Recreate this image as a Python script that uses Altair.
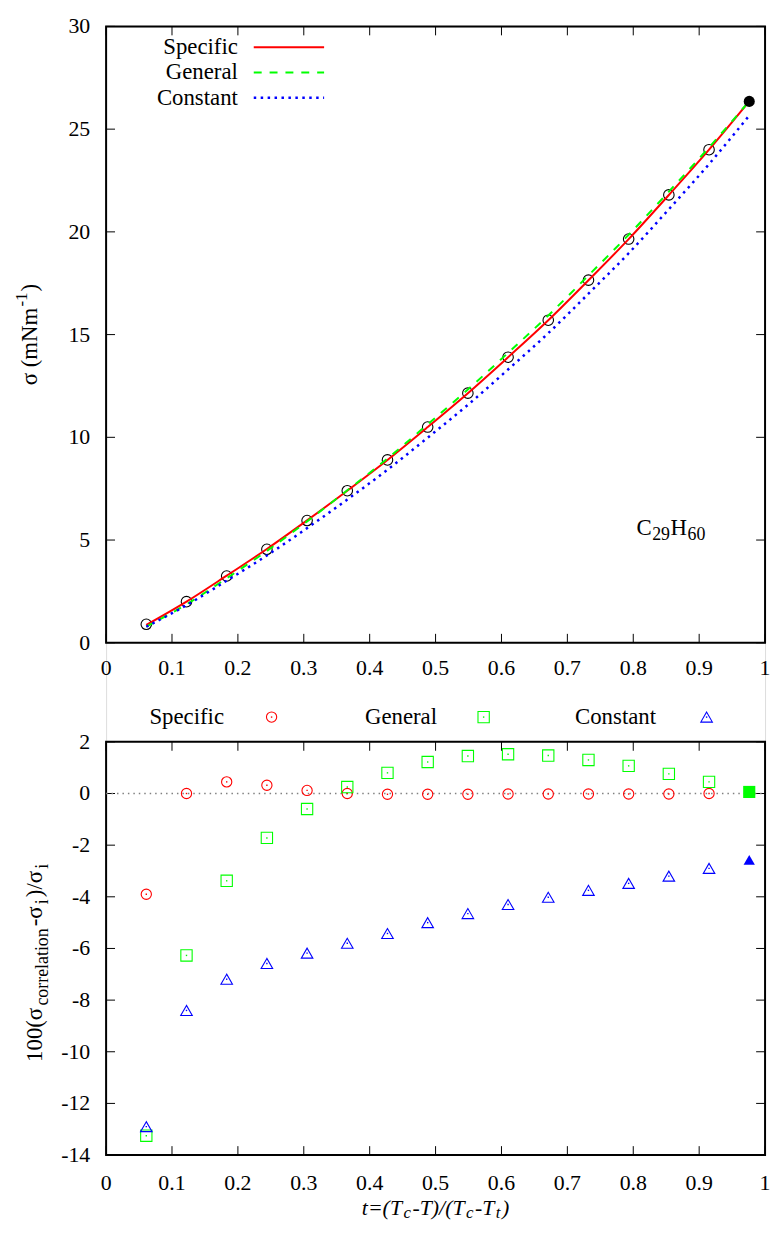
import altair as alt
import pandas as pd

FONT = "Liberation Serif"
RED, GREEN, BLUE = "#ff0000", "#00ff00", "#0000ff"

# ---------------- data ----------------
t_exp = [0.061, 0.122, 0.183, 0.244, 0.305, 0.366, 0.427, 0.488, 0.549, 0.610,
         0.671, 0.732, 0.793, 0.854, 0.915]
t_last = [0.976]
sigma_exp = [0.9, 2.0, 3.25, 4.55, 5.95, 7.4, 8.9, 10.5, 12.15, 13.9,
             15.7, 17.65, 19.65, 21.8, 24.0]
sigma_last = [26.35]

t_line = [0.061, 0.122, 0.183, 0.244, 0.305, 0.366, 0.427, 0.488, 0.549, 0.610,
          0.671, 0.732, 0.793, 0.854, 0.915, 0.976]
line_specific = [0.865, 2.0, 3.265, 4.565, 5.957, 7.4, 8.897, 10.497, 12.146, 13.897,
                 15.697, 17.646, 19.646, 21.796, 24.0, 26.35]
line_general = [0.78, 1.875, 3.14, 4.47, 5.91, 7.42, 8.97, 10.63, 12.33, 14.11,
                15.93, 17.88, 19.86, 21.96, 24.11, 26.36]
line_constant = [0.78, 1.83, 3.02, 4.25, 5.58, 6.97, 8.42, 9.98, 11.58, 13.30,
                 15.07, 16.99, 18.96, 21.10, 23.30, 25.66]

dev_specific = [-3.9, 0.0, 0.45, 0.32, 0.12, 0.0, -0.03, -0.03, -0.03, -0.02,
                -0.02, -0.02, -0.02, -0.02, 0.0]
dev_general = [-13.25, -6.27, -3.38, -1.72, -0.6, 0.25, 0.8, 1.22, 1.45, 1.52,
               1.47, 1.3, 1.07, 0.76, 0.45]
dev_constant = [-12.9, -8.4, -7.19, -6.58, -6.18, -5.8, -5.42, -5.0, -4.65, -4.3,
                -4.02, -3.75, -3.48, -3.2, -2.9]
dev_general_last = [0.06]
dev_constant_last = [-2.57]

x_ticks = [0, 0.1, 0.2, 0.3, 0.4, 0.5, 0.6, 0.7, 0.8, 0.9, 1]
top_y_ticks = [0, 5, 10, 15, 20, 25, 30]
bot_y_ticks = [-14, -12, -10, -8, -6, -4, -2, 0, 2]

# ---------------- layout constants ----------------
W, H1, GAP, H2 = 665, 622, 100, 417
B0 = H1 + GAP          # top of the lower panel
HT = B0 + H2           # bottom of the lower panel
TICK = 9
LABEL = 22
TXT = 23
SUB = 18

one = pd.DataFrame({"k": [0]})
df_top = pd.DataFrame({"t": t_exp, "s": sigma_exp})
df_top_last = pd.DataFrame({"t": t_last, "s": sigma_last})
df_lines = pd.DataFrame({"t": t_line, "sp": line_specific, "ge": line_general, "co": line_constant})
df_bot = pd.DataFrame({"t": t_exp, "sp": dev_specific, "ge": dev_general, "co": dev_constant})
df_bot_last = pd.DataFrame({"t": t_last, "ge": dev_general_last, "co": dev_constant_last})
df_xt = pd.DataFrame({"v": x_ticks, "lab": [f"{v:g}" for v in x_ticks]})
df_yt_top = pd.DataFrame({"v": top_y_ticks, "lab": [f"{v:g}" for v in top_y_ticks]})
df_yt_bot = pd.DataFrame({"v": bot_y_ticks, "lab": [f"{v:g}" for v in bot_y_ticks]})
df_zero = pd.DataFrame({"v": [0]})

xscale = alt.Scale(domain=[0, 1], nice=False, zero=False)
ys_top = alt.Scale(domain=[0, 30], range=[H1, 0], nice=False, zero=False)
ys_bot = alt.Scale(domain=[-14, 2], range=[HT, B0], nice=False, zero=False)


def X(f):
    return alt.X(f"{f}:Q", scale=xscale, axis=None)


def YT(f):
    return alt.Y(f"{f}:Q", scale=ys_top, axis=None)


def YB(f):
    return alt.Y(f"{f}:Q", scale=ys_bot, axis=None)


# ---------- text helpers (titles with sub/superscripts) ----------
WID = {'0': .5, '1': .5, '2': .5, '6': .5, '9': .5, '(': .333, ')': .333, '/': .278,
       '-': .333, 'σ': .552, ' ': .25, 'm': .778, 'N': .722, 'c': .444, 'o': .5,
       'r': .333, 'e': .444, 'l': .278, 'a': .444, 't': .278, 'i': .278, 'n': .5,
       'C': .667, 'H': .722, 'T': .611, '=': .564}
WID_IT = {'t': .278, '=': .675, '(': .333, 'T': .556, 'c': .444, '-': .333, ')': .333, '/': .278}


def txt(s, x, y, size, angle=0, align="left", baseline="alphabetic", italic=False):
    return alt.Chart(one).mark_text(
        text=s, font=FONT, fontSize=size, align=align, baseline=baseline,
        color="black", fontStyle="italic" if italic else "normal", angle=angle
    ).encode(x=alt.value(x), y=alt.value(y))


def pwidth(s, size, italic):
    tb = WID_IT if italic else WID
    return sum(tb.get(c, 0.5) for c in s) * size


def chain(pieces, center, base, vertical=False, gap=1.0, italic=False):
    widths = [pwidth(p[0], p[1], italic) for p in pieces]
    total = sum(widths) + gap * (len(pieces) - 1)
    out = []
    cum = 0.0
    for (s, size, shift), w in zip(pieces, widths):
        if vertical:
            out.append(txt(s, base + shift, center + total / 2 - cum, size, angle=270, italic=italic))
        else:
            out.append(txt(s, center - total / 2 + cum, base + shift, size, italic=italic))
        cum += w + gap
    return out


def frame(y0, y1):
    return alt.Chart(one).mark_rect(filled=False, stroke="black", strokeWidth=2).encode(
        x=alt.value(0), x2=alt.value(W), y=alt.value(y0), y2=alt.value(y1))


def panel_ticks(Yf, df_y, y0, y1, label_base):
    rule = dict(color="black", strokeWidth=1)
    return [
        alt.Chart(df_xt).mark_rule(**rule).encode(x=X("v"), y=alt.value(y1), y2=alt.value(y1 - TICK)),
        alt.Chart(df_xt).mark_rule(**rule).encode(x=X("v"), y=alt.value(y0), y2=alt.value(y0 + TICK)),
        alt.Chart(df_y).mark_rule(**rule).encode(y=Yf("v"), x=alt.value(0), x2=alt.value(TICK)),
        alt.Chart(df_y).mark_rule(**rule).encode(y=Yf("v"), x=alt.value(W), x2=alt.value(W - TICK)),
        # tick labels
        alt.Chart(df_xt).mark_text(font=FONT, fontSize=LABEL, align="center", baseline="alphabetic",
                                   color="black").encode(
            x=X("v"), y=alt.value(label_base), text="lab:N"),
        alt.Chart(df_y).mark_text(font=FONT, fontSize=LABEL, align="right", baseline="middle",
                                  color="black").encode(
            y=Yf("v"), x=alt.value(-16), text="lab:N"),
        frame(y0, y1),
    ]


layers = []

# ================= upper panel =================
layers += panel_ticks(YT, df_yt_top, 0, H1, H1 + 33)
layers.append(
    alt.Chart(df_top).mark_point(shape="circle", filled=False, color="black", size=113,
                                 strokeWidth=1.1, opacity=1).encode(x=X("t"), y=YT("s")))
for field, color, dash, sw in [("sp", RED, None, 2), ("ge", GREEN, [8, 8], 2),
                               ("co", BLUE, [2.5, 4.5], 2.5)]:
    kw = dict(color=color, strokeWidth=sw, interpolate="monotone")
    if dash:
        kw["strokeDash"] = dash
    layers.append(alt.Chart(df_lines).mark_line(**kw).encode(x=X("t"), y=YT(field)))
layers.append(
    alt.Chart(df_top_last).mark_point(shape="circle", filled=True, color="black", size=125,
                                      opacity=1).encode(x=X("t"), y=YT("s")))

# legend of the upper panel
for row, (lab, color, dash, sw) in enumerate([("Specific", RED, None, 2),
                                              ("General", GREEN, [8, 8], 2),
                                              ("Constant", BLUE, [2.5, 4.5], 2.5)]):
    yy = 21 + row * 25.5
    layers.append(txt(lab, 133, yy, TXT, align="right", baseline="middle"))
    kw = dict(color=color, strokeWidth=sw)
    if dash:
        kw["strokeDash"] = dash
    layers.append(alt.Chart(one).mark_rule(**kw).encode(
        x=alt.value(149), x2=alt.value(220), y=alt.value(yy)))

# compound label
layers += chain([("C", TXT, 0), ("29", SUB, 5), ("H", TXT, 0), ("60", SUB, 5)],
                center=570, base=513, gap=0.5)
# y title of the upper panel
layers += chain([("σ (mNm", TXT, 0), ("-1", 17, -10), (")", TXT, 0)],
                center=311, base=-70, vertical=True, gap=1)

# ================= lower panel =================
layers += panel_ticks(YB, df_yt_bot, B0, HT, HT + 35)
layers.append(alt.Chart(df_zero).mark_rule(color="#808080", strokeWidth=1.5,
                                           strokeDash=[1.5, 4]).encode(
    y=YB("v"), x=alt.value(0), x2=alt.value(W)))

series = [("sp", "circle", RED, 107), ("ge", "square", GREEN, 130), ("co", "triangle-up", BLUE, 136)]
for field, shape, color, size in series:
    layers.append(alt.Chart(df_bot).mark_point(shape=shape, filled=False, color=color,
                                               size=size, strokeWidth=1.1, opacity=1).encode(
        x=X("t"), y=YB(field)))
    layers.append(alt.Chart(df_bot).mark_point(shape="square", filled=True, color=color,
                                               size=2, opacity=1).encode(
        x=X("t"), y=YB(field)))

layers.append(alt.Chart(df_bot_last).mark_point(shape="square", filled=True, color=GREEN,
                                                size=150, opacity=1).encode(x=X("t"), y=YB("ge")))
layers.append(alt.Chart(df_bot_last).mark_point(shape="triangle-up", filled=True, color=BLUE,
                                                size=130, opacity=1).encode(x=X("t"), y=YB("co")))

# legend of the lower panel (one row above it)
LY = B0 - 25
for (lab, shape, color, size), xt_, xs_ in zip(
        [("Specific", "circle", RED, 107), ("General", "square", GREEN, 130),
         ("Constant", "triangle-up", BLUE, 136)],
        [119, 334, 555], [167, 381, 606]):
    layers.append(txt(lab, xt_, LY, TXT, align="right", baseline="middle"))
    layers.append(alt.Chart(one).mark_point(shape=shape, filled=False, color=color, size=size,
                                            strokeWidth=1.1, opacity=1).encode(
        x=alt.value(xs_), y=alt.value(LY)))
    layers.append(alt.Chart(one).mark_point(shape="square", filled=True, color=color, size=2,
                                            opacity=1).encode(
        x=alt.value(xs_), y=alt.value(LY)))

# y title of the lower panel
layers += chain([("100(σ", TXT, 0), ("correlation", SUB, 6), ("-σ", TXT, 0), ("i", SUB, 6),
                 (")/σ", TXT, 0), ("i", SUB, 6)],
                center=B0 + 223, base=-65, vertical=True, gap=2)
# x title
layers += chain([("t=(T", 22, 0), ("c", 17, 4), ("-T)/(T", 22, 0), ("c", 17, 4),
                 ("-T", 22, 0), ("t", 17, 4), (")", 22, 0)],
                center=W / 2, base=HT + 60, gap=1.5, italic=True)

chart = alt.layer(*layers).resolve_scale(y="independent").properties(
    width=W, height=HT,
    autosize=alt.AutoSizeParams(type="none"),
    padding={"left": 99, "top": 13, "right": 6, "bottom": 66},
).configure_view(stroke="transparent").configure(font=FONT)

chart.save("out.html", embed_options={"renderer": "svg", "actions": False})
